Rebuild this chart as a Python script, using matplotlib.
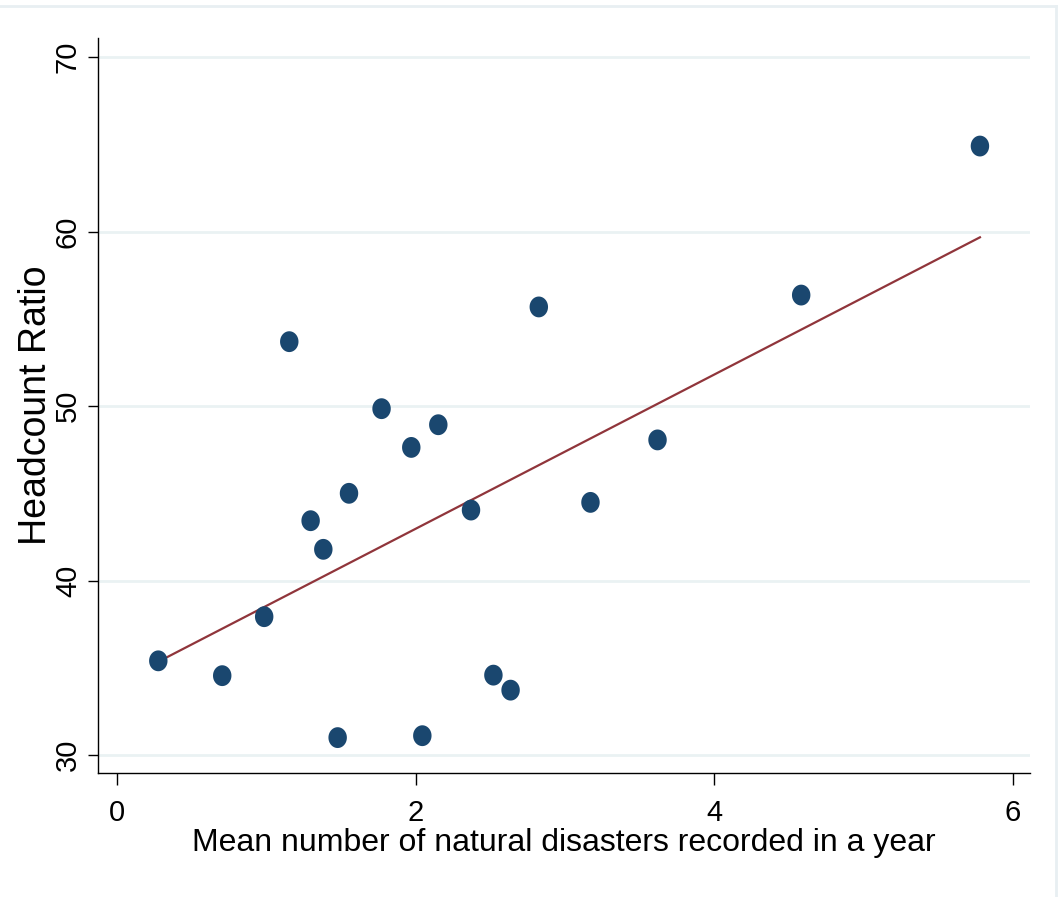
import matplotlib
matplotlib.use("Agg")
import matplotlib.pyplot as plt
import numpy as np
from matplotlib.path import Path
from matplotlib.lines import Line2D

# data
disasters = [0.277, 0.705, 0.986, 1.154, 1.297, 1.382, 1.478, 1.554, 1.772, 1.971,
             2.045, 2.152, 2.371, 2.521, 2.636, 2.825, 3.171, 3.620, 4.582, 5.779]
headcount = [35.4, 34.55, 37.93, 53.69, 43.43, 41.79, 31.0, 45.0, 49.85, 47.63,
             31.11, 48.93, 44.04, 34.58, 33.72, 55.68, 44.48, 48.06, 56.36, 64.9]
# fitted line as drawn in the chart
fit_x = [0.277, 5.779]
fit_y = [35.35, 59.67]
xticks = [0, 2, 4, 6]
yticks = [30, 40, 50, 60, 70]

plt.rcParams['font.family'] = ['Liberation Sans', 'DejaVu Sans']

navy = '#1a476f'
maroon = '#90353b'
grid = '#eaf2f3'

# slightly tall ellipse marker
t = np.linspace(0, 2*np.pi, 60)
ell = Path(np.column_stack([np.cos(t), 1.13*np.sin(t)]), closed=True)

fig = plt.figure(figsize=(10.58, 8.97), dpi=100)
ax = fig.add_axes([0.0926, 0.1382, 0.8809, 0.8194])

ax.plot(fit_x, fit_y, color=maroon, lw=1.6, zorder=2)
ax.scatter(disasters, headcount, marker=ell, s=15**2, color=navy, edgecolors='none', zorder=3)

ax.set_xlim(-0.127, 6.114)
ax.set_ylim(28.97, 71.09)
ax.set_xticks(xticks)
ax.set_yticks(yticks)
ax.set_xticklabels([str(v) for v in xticks], fontsize=21)
ax.set_yticklabels([str(v) for v in yticks], fontsize=21, rotation=90, va='center')
ax.tick_params(axis='x', length=8.5, width=1.0, pad=10, color='black')
ax.tick_params(axis='y', length=7.5, width=1.0, pad=4, color='black')
ax.yaxis.grid(True, color=grid, lw=2)
ax.set_axisbelow(True)
for s in ['top', 'right']:
    ax.spines[s].set_visible(False)
for s in ['left', 'bottom']:
    ax.spines[s].set_linewidth(1.0)

ax.set_xlabel('Mean number of natural disasters recorded in a year', fontsize=23, labelpad=1)
ax.set_ylabel('Headcount Ratio', fontsize=27, labelpad=0)

# faint outer frame (top and right edges) like the Stata graph region
fig.lines.append(Line2D([0, 0.998], [0.9933, 0.9933], transform=fig.transFigure,
                        color='#e8eff2', lw=2))
fig.lines.append(Line2D([0.998, 0.998], [0, 0.9933], transform=fig.transFigure,
                        color='#e8eff2', lw=2))

fig.savefig('out.png', dpi=100)
